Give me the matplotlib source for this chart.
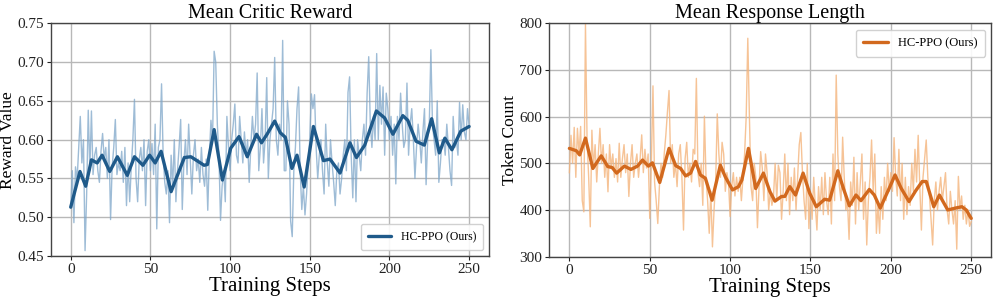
import matplotlib
matplotlib.use("Agg")
import matplotlib.pyplot as plt
import numpy as np

plt.rcParams['font.family'] = ['Liberation Serif', 'DejaVu Serif']

# ---- raw per-step values ----
steps = np.arange(251)

reward_raw = [
    0.513, 0.560, 0.493, 0.565, 0.548, 0.590, 0.630, 0.570, 0.600, 0.457,
    0.530, 0.638, 0.560, 0.637, 0.555, 0.580, 0.590, 0.560, 0.545, 0.585,
    0.608, 0.575, 0.590, 0.550, 0.600, 0.497, 0.565, 0.590, 0.626, 0.555,
    0.570, 0.560, 0.585, 0.545, 0.590, 0.515, 0.570, 0.520, 0.565, 0.600,
    0.652, 0.550, 0.520, 0.575, 0.590, 0.560, 0.600, 0.515, 0.585, 0.600,
    0.560, 0.595, 0.555, 0.620, 0.485, 0.590, 0.600, 0.672, 0.580, 0.545,
    0.530, 0.560, 0.493, 0.580, 0.540, 0.600, 0.520, 0.560, 0.590, 0.626,
    0.510, 0.570, 0.600, 0.555, 0.620, 0.575, 0.530, 0.580, 0.600, 0.560,
    0.575, 0.545, 0.590, 0.555, 0.540, 0.575, 0.509, 0.580, 0.625, 0.600,
    0.714, 0.700, 0.620, 0.580, 0.496, 0.540, 0.560, 0.520, 0.630, 0.590,
    0.560, 0.600, 0.620, 0.646, 0.580, 0.570, 0.630, 0.600, 0.570, 0.610,
    0.580, 0.600, 0.545, 0.590, 0.630, 0.600, 0.620, 0.686, 0.560, 0.590,
    0.640, 0.570, 0.600, 0.680, 0.550, 0.600, 0.620, 0.640, 0.706, 0.600,
    0.580, 0.620, 0.600, 0.728, 0.560, 0.560, 0.650, 0.620, 0.495, 0.475,
    0.560, 0.590, 0.640, 0.668, 0.560, 0.510, 0.540, 0.503, 0.530, 0.570,
    0.600, 0.659, 0.640, 0.658, 0.590, 0.550, 0.580, 0.600, 0.560, 0.530,
    0.620, 0.570, 0.540, 0.600, 0.570, 0.545, 0.515, 0.560, 0.570, 0.530,
    0.550, 0.580, 0.600, 0.560, 0.661, 0.681, 0.580, 0.525, 0.600, 0.520,
    0.600, 0.580, 0.560, 0.600, 0.620, 0.580, 0.660, 0.707, 0.620, 0.590,
    0.630, 0.600, 0.711, 0.600, 0.670, 0.620, 0.668, 0.580, 0.660, 0.640,
    0.600, 0.630, 0.580, 0.620, 0.543, 0.630, 0.600, 0.660, 0.620, 0.590,
    0.600, 0.673, 0.580, 0.620, 0.640, 0.600, 0.550, 0.590, 0.620, 0.600,
    0.570, 0.610, 0.640, 0.542, 0.600, 0.620, 0.716, 0.620, 0.600, 0.580,
    0.650, 0.545, 0.570, 0.600, 0.600, 0.580, 0.620, 0.590, 0.560, 0.541,
    0.630, 0.590, 0.600, 0.580, 0.648, 0.600, 0.645, 0.610, 0.600, 0.640,
    0.617,
]

length_raw = [
    480, 560, 500, 577, 470, 575, 520, 579, 420, 396,
    800, 550, 470, 364, 571, 490, 540, 460, 520, 575,
    500, 540, 470, 520, 439, 540, 490, 520, 470, 510,
    460, 543, 470, 510, 540, 480, 520, 429, 500, 540,
    470, 500, 520, 470, 510, 561, 480, 530, 490, 520,
    382, 500, 666, 460, 420, 371, 450, 500, 470, 520,
    560, 610, 656, 500, 540, 470, 500, 450, 520, 540,
    470, 357, 510, 545, 470, 500, 460, 530, 520, 682,
    480, 450, 500, 410, 601, 470, 420, 350, 440, 321,
    400, 460, 606, 520, 470, 545, 520, 440, 480, 460,
    386, 450, 480, 430, 470, 440, 470, 420, 470, 520,
    600, 768, 600, 450, 420, 500, 470, 362, 450, 525,
    490, 420, 520, 480, 400, 440, 410, 430, 500, 420,
    496, 480, 380, 440, 520, 420, 500, 390, 470, 420,
    490, 400, 470, 540, 566, 480, 420, 380, 500, 360,
    440, 380, 470, 410, 357, 450, 400, 470, 390, 480,
    420, 390, 470, 370, 520, 420, 689, 520, 450, 420,
    556, 470, 400, 420, 337, 460, 410, 513, 370, 480,
    400, 460, 520, 380, 460, 325, 420, 470, 550, 440,
    520, 350, 410, 350, 450, 380, 470, 420, 500, 440,
    480, 440, 555, 470, 430, 530, 420, 500, 380, 470,
    390, 450, 410, 500, 440, 530, 460, 560, 450, 357,
    470, 510, 550, 470, 430, 380, 325, 420, 460, 400,
    440, 470, 420, 450, 480, 400, 370, 440, 400, 370,
    420, 316, 472, 400, 430, 380, 410, 370, 400, 365,
    375,
]

# ---- smoothed curves: (step, value) points ----
reward_smooth_x = [0, 5.8, 9.4, 13, 16.6, 19.7, 24.5, 29.3, 35.5, 40, 45.3, 49.5,
                   53, 56.7, 63, 71.3, 75.4, 83.7, 85.8, 90, 95.2, 100.4, 105.6,
                   110.8, 116.6, 119.7, 123.2, 128, 131.5, 134.7, 138.8, 142,
                   146.5, 152.3, 158.6, 162.7, 169, 175.2, 179.3, 184.5, 191.8,
                   197, 202.2, 208.4, 211.5, 216.7, 221.9, 226.5, 231.3, 234.8,
                   239.2, 244.8, 250]
reward_smooth_y = [0.513, 0.559, 0.540, 0.574, 0.570, 0.580, 0.559, 0.578, 0.554,
                   0.578, 0.567, 0.580, 0.570, 0.585, 0.533, 0.577, 0.578, 0.567,
                   0.568, 0.613, 0.548, 0.589, 0.604, 0.578, 0.607, 0.596, 0.607,
                   0.624, 0.609, 0.603, 0.563, 0.580, 0.539, 0.617, 0.573, 0.575,
                   0.557, 0.596, 0.577, 0.593, 0.637, 0.628, 0.607, 0.631, 0.625,
                   0.598, 0.593, 0.627, 0.583, 0.602, 0.587, 0.611, 0.617]

length_smooth_x = [0, 4.3, 6.4, 10, 14.6, 19.8, 23.9, 26.6, 29.4, 34.2, 38.3, 42.4,
                   45.5, 49.2, 51.7, 56.2, 62, 66.1, 69.2, 72.3, 75.4, 78.5, 81.5,
                   84.6, 88.8, 93.9, 97, 101.5, 105.2, 107.3, 111.4, 115.9, 120.7,
                   124.8, 127.9, 132, 134, 137.1, 140.7, 145.4, 149.5, 153.6, 158.8,
                   161.9, 167, 170.5, 174.2, 178.3, 181.4, 186.6, 189.7, 193.4,
                   198.9, 202.6, 206.5, 211.3, 215.4, 219.5, 222, 226.7, 230.2,
                   235.4, 240.1, 244.2, 246.9, 250]
length_smooth_y = [532, 527, 518, 554, 489, 516, 493, 491, 479, 494, 487, 494, 507,
                   494, 501, 459, 532, 495, 489, 473, 479, 504, 475, 468, 421, 496,
                   471, 443, 450, 464, 532, 446, 479, 439, 419, 429, 429, 450, 432,
                   479, 436, 407, 423, 421, 484, 446, 409, 432, 420, 444, 432, 404,
                   446, 475, 446, 418, 441, 461, 461, 407, 432, 400, 404, 407, 400,
                   382]

label = "HC-PPO (Ours)"
blue, blue_light = "#1f5a8a", "#7ea6c9"
orange, orange_light = "#d2691e", "#f4b47c"


def style_axis(ax, title, ylabel):
    ax.set_title(title, fontsize=14.5, pad=4)
    ax.set_xlabel("Training Steps", fontsize=15, labelpad=1)
    ax.set_ylabel(ylabel, fontsize=12.5, labelpad=1)
    ax.grid(True, color="#b8b8b8", linewidth=1.0)
    ax.set_axisbelow(True)
    ax.tick_params(labelsize=11, colors="#222222", length=3, pad=2)
    for s in ax.spines.values():
        s.set_color("#444444")
        s.set_linewidth(1.0)


fig = plt.figure(figsize=(9.96, 3.03), dpi=100)
ax1 = fig.add_axes([0.051, 0.155, 0.440, 0.768])
ax2 = fig.add_axes([0.5515, 0.153, 0.4438, 0.770])

ax1.plot(steps, reward_raw, color=blue_light, lw=1.0, alpha=0.75)
ax1.plot(reward_smooth_x, reward_smooth_y, color=blue, lw=2.4,
         solid_joinstyle="round", solid_capstyle="round", label=label)
ax1.set_ylim(0.45, 0.75)
ax1.set_xticks([0, 50, 100, 150, 200, 250])
ax1.set_yticks([0.45, 0.50, 0.55, 0.60, 0.65, 0.70, 0.75])
ax1.set_yticklabels(["0.45", "0.50", "0.55", "0.60", "0.65", "0.70", "0.75"])
style_axis(ax1, "Mean Critic Reward", "Reward Value")
ax1.legend(loc="lower right", fontsize=8.5, framealpha=0.9, edgecolor="#cccccc",
           handlelength=2.0, borderpad=0.6)

ax2.plot(steps, length_raw, color=orange_light, lw=1.0, alpha=0.8)
ax2.plot(length_smooth_x, length_smooth_y, color=orange, lw=2.4,
         solid_joinstyle="round", solid_capstyle="round", label=label)
ax2.set_ylim(300, 800)
ax2.set_xticks([0, 50, 100, 150, 200, 250])
ax2.set_yticks([300, 400, 500, 600, 700, 800])
style_axis(ax2, "Mean Response Length", "Token Count")
ax2.legend(loc="upper right", fontsize=9, framealpha=0.9, edgecolor="#cccccc",
           handlelength=2.0, borderpad=0.6)

fig.savefig("out.png", dpi=100)
